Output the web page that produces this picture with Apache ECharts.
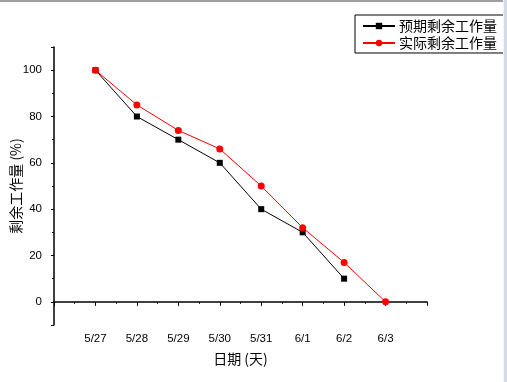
<!DOCTYPE html>
<html>
<head>
<meta charset="utf-8">
<script src="https://cdn.jsdelivr.net/npm/echarts@6/dist/echarts.min.js"></script>
<style>html,body{margin:0;padding:0;background:#fff;}#c{width:507px;height:382px;}</style>
</head>
<body>
<div id="c"></div>
<script>
const categories = ['5/27', '5/28', '5/29', '5/30', '5/31', '6/1', '6/2', '6/3'];
const planned = [100, 80, 70, 60, 40, 30, 10];
const actual = [100, 85, 74, 66, 50, 32, 17, 0];
const seriesNames = ['预期剩余工作量', '实际剩余工作量'];
const yTickLabels = ['0', '20', '40', '60', '80', '100'];

const toPts = arr => arr.map((v, i) => [i + 1, v]);
const tickFont = { color: '#000', fontFamily: 'Liberation Sans, Arial, sans-serif', fontSize: 11.5 };
const cjk = 'Noto Sans CJK SC, sans-serif';

const chart = echarts.init(document.getElementById('c'), null, { renderer: 'canvas' });
chart.setOption({
  animation: false,
  backgroundColor: '#fff',
  grid: { left: 54, right: 80, top: 47, bottom: 57, containLabel: false, outerBoundsMode: 'none' },
  legend: {
    orient: 'vertical', left: 355, top: 15,
    padding: [4, 12, 3, 7], itemGap: 3, itemWidth: 32, itemHeight: 8,
    borderColor: '#000', borderWidth: 1,
    textStyle: { fontFamily: cjk, fontSize: 14, color: '#000', padding: [0, 0, 0, -1] },
    data: seriesNames
  },
  xAxis: {
    type: 'value', min: 0, max: 9, interval: 1,
    name: '日期 (天)', nameLocation: 'middle', nameGap: 27, nameMoveOverlap: false,
    nameTextStyle: { fontFamily: cjk, fontSize: 14, color: '#000' },
    splitLine: { show: false },
    axisLine: { lineStyle: { color: '#000', width: 1.5 } },
    axisTick: { length: 4, lineStyle: { color: '#000', width: 1 } },
    minorTick: { show: true, splitNumber: 2, length: 2, lineStyle: { color: '#000', width: 1 } },
    axisLabel: Object.assign({ margin: 8, formatter: v => (v >= 1 && v <= categories.length) ? categories[v - 1] : '' }, tickFont)
  },
  yAxis: {
    type: 'value', min: -10, max: 110, minInterval: 20, maxInterval: 20,
    name: '剩余工作量 (%)', nameLocation: 'middle', nameGap: 31, nameMoveOverlap: false,
    nameTextStyle: { fontFamily: cjk, fontSize: 14, color: '#000' },
    splitLine: { show: false },
    axisLine: { lineStyle: { color: '#000', width: 1.5 } },
    axisTick: { length: 3, lineStyle: { color: '#000', width: 1 } },
    minorTick: { show: true, splitNumber: 2, length: 2, lineStyle: { color: '#000', width: 1 } },
    axisLabel: Object.assign({ margin: 12, formatter: v => yTickLabels.indexOf(String(v)) >= 0 ? String(v) : '' }, tickFont)
  },
  series: [
    {
      name: seriesNames[0], type: 'line', data: toPts(planned),
      symbol: 'rect', symbolSize: 6, showAllSymbol: true,
      lineStyle: { color: '#000', width: 1 }, itemStyle: { color: '#000' }
    },
    {
      name: seriesNames[1], type: 'line', data: toPts(actual),
      symbol: 'circle', symbolSize: 7, showAllSymbol: true,
      lineStyle: { color: '#ff0000', width: 1 }, itemStyle: { color: '#ff0000' }
    }
  ],
  graphic: [
    { type: 'rect', z: 100, shape: { x: 0, y: 0, width: 507, height: 2 }, style: { fill: '#a0a0a0' } },
    { type: 'rect', z: 100, shape: { x: 503, y: 0, width: 4, height: 382 }, style: { fill: '#d3dce6' } },
    { type: 'rect', z: 101, shape: { x: 503, y: 0, width: 1, height: 382 }, style: { fill: '#f4f6f8' } }
  ]
});
</script>
</body>
</html>
